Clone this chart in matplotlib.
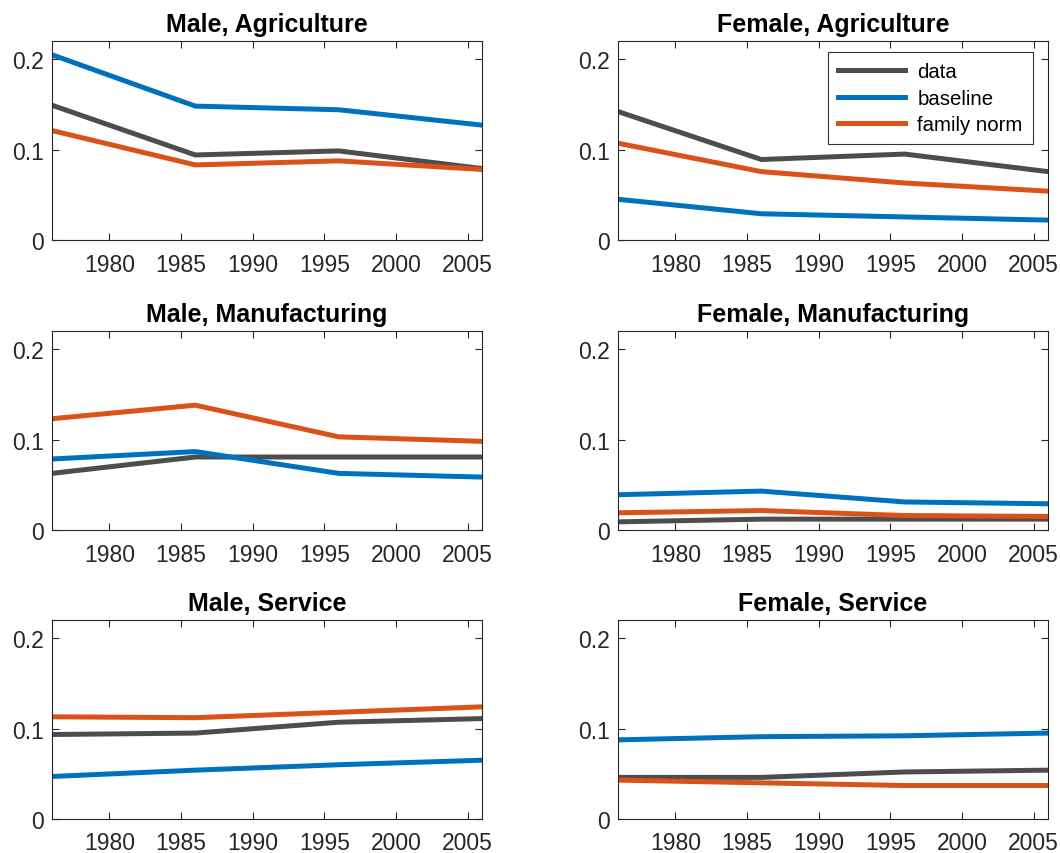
import matplotlib
matplotlib.use("Agg")
import matplotlib.pyplot as plt

plt.rcParams['font.family'] = ['Liberation Sans', 'DejaVu Sans']

years = [1976, 1986, 1996, 2006]
titles = ["Male, Agriculture", "Female, Agriculture",
          "Male, Manufacturing", "Female, Manufacturing",
          "Male, Service", "Female, Service"]

# data / baseline / family norm for each panel
data_vals = [
    [0.149, 0.094, 0.0985, 0.079],
    [0.142, 0.089, 0.095, 0.0756],
    [0.0626, 0.0807, 0.0807, 0.0807],
    [0.009, 0.012, 0.012, 0.012],
    [0.0934, 0.095, 0.107, 0.111],
    [0.046, 0.046, 0.052, 0.054],
]
baseline_vals = [
    [0.2048, 0.148, 0.144, 0.127],
    [0.045, 0.029, 0.0255, 0.022],
    [0.0785, 0.0867, 0.0626, 0.0585],
    [0.039, 0.043, 0.031, 0.029],
    [0.047, 0.054, 0.060, 0.065],
    [0.0875, 0.091, 0.092, 0.095],
]
family_vals = [
    [0.121, 0.083, 0.0875, 0.078],
    [0.107, 0.0756, 0.063, 0.054],
    [0.123, 0.138, 0.103, 0.098],
    [0.019, 0.0215, 0.016, 0.015],
    [0.113, 0.112, 0.118, 0.124],
    [0.043, 0.040, 0.037, 0.037],
]

c_data = "#4d4d4d"
c_base = "#0072BD"
c_fam = "#D95319"

fig = plt.figure(figsize=(10.6, 8.54), dpi=100)

lefts = [52 / 1060, 618 / 1060]
bottoms = [1 - 241 / 854, 1 - 531 / 854, 1 - 820 / 854]
w = 430 / 1060
h = 199 / 854

for i in range(6):
    row, col = i // 2, i % 2
    ax = fig.add_axes([lefts[col], bottoms[row], w, h])
    ax.plot(years, data_vals[i], color=c_data, lw=3.6, label="data")
    ax.plot(years, baseline_vals[i], color=c_base, lw=3.6, label="baseline")
    ax.plot(years, family_vals[i], color=c_fam, lw=3.6, label="family norm")
    ax.set_xlim(1976, 2006)
    ax.set_ylim(0, 0.22)
    ax.set_xticks([1980, 1985, 1990, 1995, 2000, 2005])
    ax.set_yticks([0, 0.1, 0.2])
    ax.set_yticklabels(["0", "0.1", "0.2"])
    ax.tick_params(direction="in", top=True, right=True, length=5,
                   width=0.8, labelsize=16.5, colors="#262626")
    ax.tick_params(axis="x", pad=9)
    ax.tick_params(axis="y", pad=6)
    for s in ax.spines.values():
        s.set_color("#262626")
        s.set_linewidth(0.8)
    ax.set_title(titles[i], fontsize=18, fontweight="bold", pad=7)
    if i == 1:
        leg = ax.legend(loc="upper right", fontsize=14.7, frameon=True,
                        fancybox=False, edgecolor="black", handlelength=3.3,
                        borderpad=0.5, labelspacing=0.37, handletextpad=0.6,
                        borderaxespad=0, bbox_to_anchor=(0.965, 0.945))
        leg.get_frame().set_linewidth(0.8)

fig.savefig("out.png", dpi=100)
